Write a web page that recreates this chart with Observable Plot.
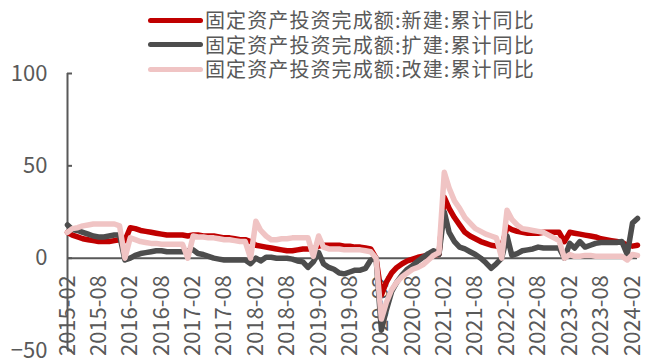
<!DOCTYPE html>
<html><head><meta charset="utf-8">
<script src="https://cdn.jsdelivr.net/npm/d3@7"></script>
<script src="https://cdn.jsdelivr.net/npm/@observablehq/plot@0.6"></script>
<style>
body{margin:0;background:#fff;}
#wrap{position:relative;width:646px;height:360px;font-family:"Noto Sans CJK SC",sans-serif;}
#legend{position:absolute;left:148px;top:8px;color:#595959;font-size:20px;letter-spacing:1.1px;}
.row{display:flex;align-items:center;height:24.5px;white-space:nowrap;}
.sw{display:inline-block;width:55px;height:5px;border-radius:3px;margin-right:2px;}
.lt{display:inline-block;height:22px;line-height:22px;overflow:visible;}
#chart{position:absolute;left:0;top:0;}
</style></head>
<body><div id="wrap"><div id="chart"></div><div id="legend"></div></div>
<script>
const seriesNames = ["固定资产投资完成额:新建:累计同比", "固定资产投资完成额:扩建:累计同比", "固定资产投资完成额:改建:累计同比"];
const seriesColors = ["#C00000", "#4D4D4D", "#F0C4C4"];
const firstMonth = "2015-02";
const lastMonth = "2024-03";
const xTickLabels = ["2015-02","2015-08","2016-02","2016-08","2017-02","2017-08","2018-02","2018-08","2019-02","2019-08","2020-02","2020-08","2021-02","2021-08","2022-02","2022-08","2023-02","2023-08","2024-02"];
const yTicks = [-50, 0, 50, 100];

// 新建 (monthly, 2015-02 .. 2024-03)
const xinjian = [
  14, 12.5, 11.5, 10.5, 10, 9.5, 9, 9, 9, 9.5, 10,
  9.5, 16.5, 16, 15, 14.5, 14, 13.5, 13, 12.5, 12.5, 12.5, 12.5,
  12, 12.5, 12.5, 12, 12, 12, 11.5, 11, 11, 10.5, 10, 10,
  9, 7, 6.5, 6, 5.5, 5, 4.5, 4, 4, 4.5, 5, 5,
  5, 6.5, 7, 7, 7, 7, 6.5, 6.5, 6, 6, 5.5, 5,
  0, -20, -13, -8, -5, -3, -1.5, -0.5, 0.5, 1, 1.5, 2,
  2, 33, 27, 22, 18, 14, 12, 10.5, 9, 8, 7, 6.5,
  6, 17, 15.5, 14.5, 14, 13.5, 13.5, 13.5, 14, 14, 14, 14,
  9, 14, 13.5, 13, 12.5, 12, 11.5, 10.5, 10, 9.5, 9, 8.5,
  7, 6.5, 7
];
// 扩建
const kuojian = [
  18, 15.5, 15, 14, 13, 12, 11.5, 11.5, 12, 12.5, 12.5,
  -1, 0, 1.5, 2.5, 3, 3.5, 4, 4, 3.5, 3.5, 3.5, 3.5,
  4, 4.5, 2.5, 2, 1, 0, -0.5, -1, -1, -1, -1, -1,
  -3, 0, -1.5, 0.5, 0.5, 0, 0, 0, -0.5, -1.5, -2, -5,
  -2, 3, -3, -5, -6, -8, -8.5, -7.5, -6.5, -6.5, -5.5, -1,
  0, -39, -28, -18, -13, -9, -6, -4, -1.5, 0.5, 2.5, 4,
  2, 25, 14, 9, 6, 5, 3.5, 2, 0, -2.5, -5.5, -3,
  0, 12, 1.5, 2.5, 4, 4.5, 5, 6, 5.5, 5.5, 5.5, 5.5,
  0, 8, 5.5, 9, 6, 7, 8, 8.5, 8.5, 8.5, 8.5, 9,
  2, 19, 21.5
];
// 改建
const gaijian = [
  14, 16, 16.5, 17.5, 18, 18.5, 18.5, 18.5, 18.5, 18.5, 17.5,
  0, 11, 10, 9, 8.5, 8, 8, 7.5, 7.5, 7.5, 7.5, 7.5,
  0, 12, 11.5, 11.5, 11, 11, 10.5, 10, 10, 9.5, 9, 9,
  0, 20, 15, 12, 10, 10, 10.5, 10.5, 11, 11, 11, 11,
  1, 12, 6, 5, 5, 5, 4.5, 4.5, 4.5, 4.5, 4, 3.5,
  0, -33, -24, -17, -13, -10, -8, -6, -5, -3.5, -1, 1.5,
  3, 46.5, 38, 31, 27, 22, 19, 16, 14.5, 13, 12, 11,
  0, 26, 21, 18, 16, 15.5, 15, 14.5, 14, 12.5, 11, 9.5,
  0, 2, 1, 1, 1.5, 1.5, 1, 1, 1, 1, 1, 1,
  -1, 2, 1.5
];

const parseMonth = d3.utcParse("%Y-%m");
const fmtMonth = d3.utcFormat("%Y-%m");
const months = d3.utcMonth.range(parseMonth(firstMonth), d3.utcMonth.offset(parseMonth(lastMonth), 1));
const seriesValues = [xinjian, kuojian, gaijian];
const rows = seriesValues.map(vals => months.map((date, i) => ({date, value: vals[i]})));
const xTicks = xTickLabels.map(parseMonth);

const lineOpts = {x: "date", y: "value", strokeWidth: 5.5, strokeLinejoin: "round", strokeLinecap: "round"};

const chart = Plot.plot({
  width: 646, height: 360,
  marginLeft: 67, marginRight: 9, marginTop: 73, marginBottom: 10,
  style: {fontFamily: "'Noto Sans CJK SC', sans-serif", fontSize: "22px", color: "#595959", background: "transparent", overflow: "visible"},
  x: {type: "utc", domain: [months[0], months[months.length - 1]], axis: null},
  y: {domain: [-50, 100], axis: null},
  marks: [
    Plot.ruleY([0], {stroke: "#595959", strokeWidth: 2}),
    Plot.ruleX([months[0]], {stroke: "#595959", strokeWidth: 2}),
    Plot.axisY(yTicks, {tickSize: -5, tickFormat: () => "", label: null, stroke: "#595959", strokeWidth: 2}),
    Plot.axisY(yTicks, {tickSize: 0, tickPadding: 20, fontSize: 22, label: null}),
    Plot.text(xTicks, {x: d => d, y: 0, text: d => fmtMonth(d), rotate: -90, textAnchor: "end", dy: 17, fontSize: 22, fill: "#595959"}),
    Plot.line(rows[0], {...lineOpts, stroke: seriesColors[0]}),
    Plot.line(rows[1], {...lineOpts, stroke: seriesColors[1]}),
    Plot.line(rows[2], {...lineOpts, stroke: seriesColors[2]})
  ]
});
document.getElementById("chart").appendChild(chart);

const legend = document.getElementById("legend");
seriesNames.forEach((name, i) => {
  const row = document.createElement("div");
  row.className = "row";
  const sw = document.createElement("span");
  sw.className = "sw";
  sw.style.background = seriesColors[i];
  const t = document.createElement("span");
  t.className = "lt";
  t.textContent = name;
  row.appendChild(sw);
  row.appendChild(t);
  legend.appendChild(row);
});
</script>
</body></html>
